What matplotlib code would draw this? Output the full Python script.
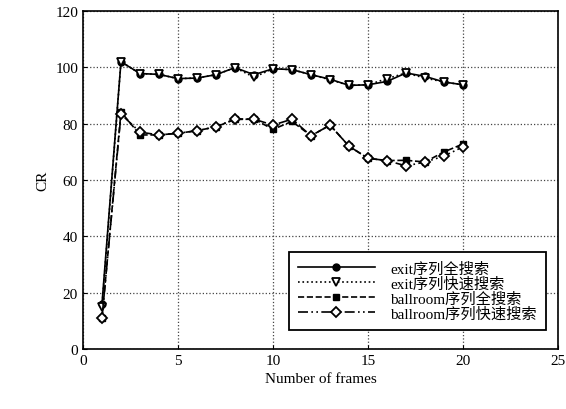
import matplotlib
matplotlib.use("Agg")
import matplotlib.pyplot as plt

plt.rcParams['font.family'] = ['Liberation Serif', 'Noto Sans CJK SC', 'DejaVu Sans']

frames = list(range(1, 21))
exit_full = [16, 102, 97.8, 97.5, 96, 96.2, 97.4, 99.9, 97.4, 99.5,
             99.2, 97.4, 95.8, 93.6, 93.8, 95, 98, 96.8, 94.8, 93.8]
exit_fast = [15, 102, 97.8, 97.5, 96, 96.2, 97.4, 99.9, 96.5, 99.5,
             99.2, 97.4, 95.6, 93.6, 93.8, 96, 98, 96.2, 94.8, 93.8]
ball_full = [11, 84.2, 76, 76, 76.6, 77.5, 78.9, 81.5, 81.6, 78,
             80.8, 75.7, 79.5, 72, 67.7, 66.9, 67, 66.4, 70, 72.8]
ball_fast = [11, 83.4, 77, 76, 76.6, 77.5, 78.9, 81.7, 81.6, 79.5,
             81.6, 75.7, 79.5, 72, 67.7, 66.9, 65, 66.4, 68.5, 71.8]
labels = ['exit序列全搜索', 'exit序列快速搜索', 'ballroom序列全搜索', 'ballroom序列快速搜索']

fig = plt.figure(figsize=(5.66, 4.1), dpi=100)
ax = fig.add_axes([0.1466, 0.1463, 0.8394, 0.8244])

ax.plot(frames, exit_full, color='black', linestyle='-', linewidth=1.2,
        marker='o', markersize=5, markerfacecolor='black', label=labels[0])
ax.plot(frames, exit_fast, color='black', linestyle=':', linewidth=1.2,
        marker='v', markersize=6, markerfacecolor='white', markeredgewidth=1.3, label=labels[1])
ax.plot(frames, ball_full, color='black', linestyle='--', linewidth=1.2,
        marker='s', markersize=5, markerfacecolor='black', label=labels[2])
ax.plot(frames, ball_fast, color='black', linestyle=(0, (6, 2, 1, 2, 1, 2)), linewidth=1.2,
        marker='D', markersize=5, markerfacecolor='white', markeredgewidth=1.3, label=labels[3])

ax.set_xlim(0, 25)
ax.set_ylim(0, 120)
ax.set_xticks([0, 5, 10, 15, 20, 25])
ax.set_yticks([0, 20, 40, 60, 80, 100, 120])
ax.grid(True, linestyle=':', color='#444444', linewidth=0.9)
ax.tick_params(direction='in', labelsize=11, length=3)
for s in ax.spines.values():
    s.set_linewidth(1.2)

ax.set_xlabel('Number of frames', fontsize=11)
ax.set_ylabel('CR', fontsize=11)

leg = ax.legend(loc='lower right', bbox_to_anchor=(0.99, 0.035), fontsize=11,
                fancybox=False, edgecolor='black', framealpha=1,
                handlelength=5, labelspacing=0.05, borderpad=0.6, handletextpad=1.0)
leg.get_frame().set_linewidth(1.3)

fig.savefig('out.png', dpi=100)
